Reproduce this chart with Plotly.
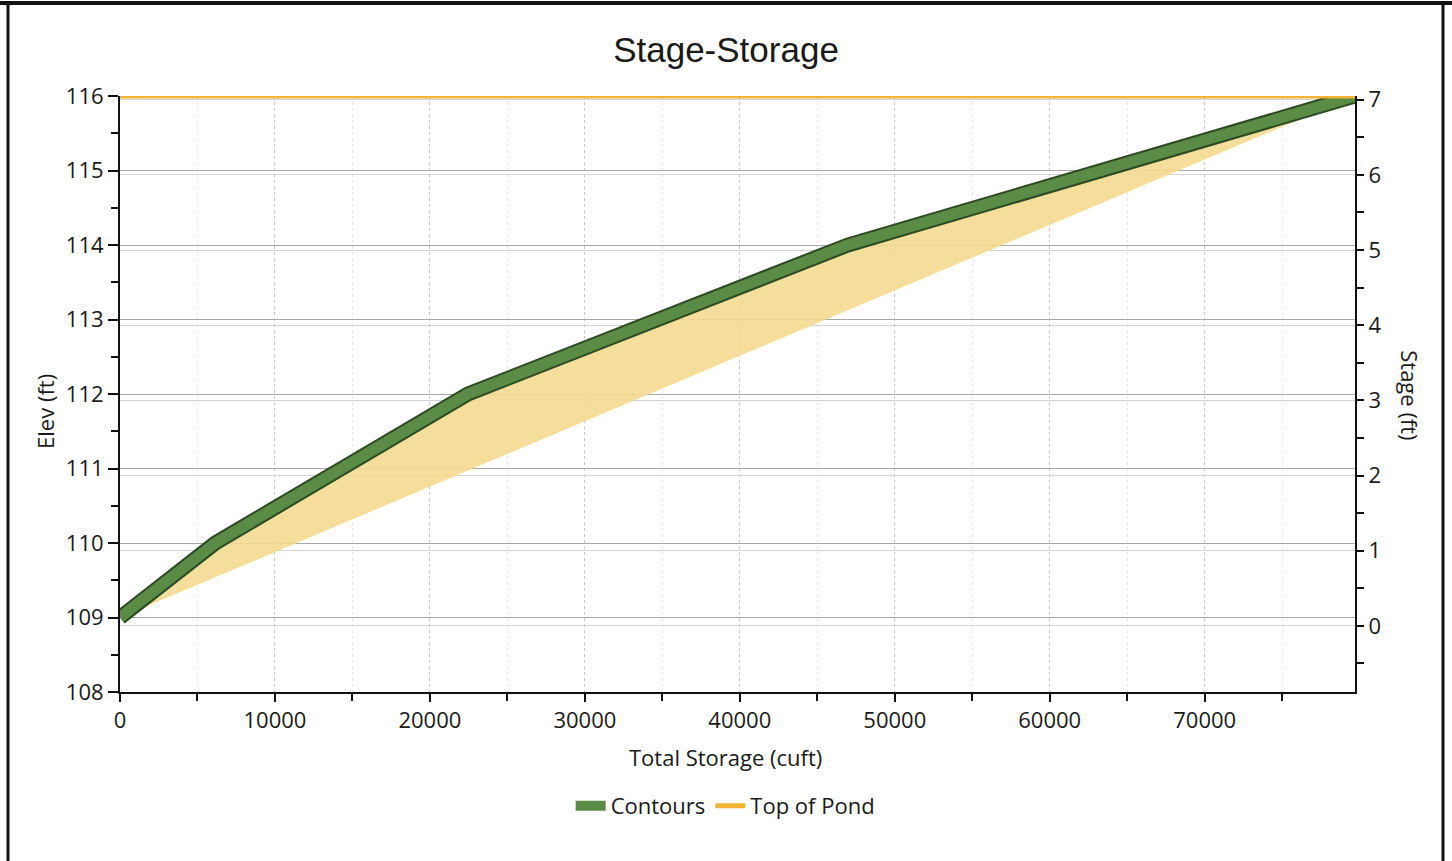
import plotly.graph_objects as go

# values
storage = [0, 6150, 22450, 46970, 79700]          # cuft
elev = [109.0, 110.0, 112.0, 114.0, 116.0]        # ft
stage = [0.0, 1.0, 3.0, 5.0, 7.0]                 # ft
fill_low = [109.0, 109.54, 110.97, 113.12, 116.0] # lower edge of shaded band
pond_x = [0, 79700]
pond_top = [116.0, 116.0]

GREEN = "#5b8c46"
DARK = "#2e4a22"
TAN = "rgba(244,218,145,0.9)"
ORANGE = "#f2b434"
FONT = "Open Sans"

fig = go.Figure()

# shaded band between the contour line and the straight lower edge
fig.add_trace(go.Scatter(x=storage, y=fill_low, mode="lines", line=dict(width=0),
                         showlegend=False, hoverinfo="skip"))
fig.add_trace(go.Scatter(x=storage, y=elev, mode="lines", line=dict(width=0),
                         fill="tonexty", fillcolor=TAN, showlegend=False, hoverinfo="skip"))

# contours: dark outline + green core
fig.add_trace(go.Scatter(x=storage, y=elev, mode="lines", line=dict(color=DARK, width=15),
                         showlegend=False, hoverinfo="skip"))
fig.add_trace(go.Scatter(x=storage, y=elev, mode="lines", name="Contours",
                         line=dict(color=GREEN, width=11)))

# stage axis trace (invisible, just ties y2 to data)
fig.add_trace(go.Scatter(x=storage, y=stage, yaxis="y2", mode="lines",
                         line=dict(width=0), opacity=0, showlegend=False, hoverinfo="skip"))

fig.add_trace(go.Scatter(x=pond_x, y=pond_top, mode="lines", name="Top of Pond",
                         line=dict(color=ORANGE, width=5), cliponaxis=False))

fig.update_layout(
    width=1452, height=861,
    margin=dict(l=120, r=97, t=96, b=169),
    paper_bgcolor="white", plot_bgcolor="white",
    font=dict(family=FONT, size=22, color="#1a1a1a"),
    title=dict(text="Stage-Storage", x=0.5, xref="container", xanchor="center",
               y=1 - 50 / 861, yref="container", yanchor="middle",
               font=dict(family="Liberation Sans", size=35, color="#1a1a1a")),
    xaxis=dict(range=[0, 79700], dtick=10000, tick0=0, showline=True, linecolor="#111",
               linewidth=2, ticks="outside", ticklen=8, tickwidth=2, tickcolor="#111",
               showgrid=True, gridcolor="#c8c8c8", griddash="dot", gridwidth=1,
               zeroline=False, tickformat="d",
               minor=dict(dtick=5000, ticks="outside", ticklen=7, tickwidth=2,
                          tickcolor="#111", showgrid=True, gridcolor="#e6e6e6",
                          griddash="dot")),
    yaxis=dict(range=[108, 116], dtick=1, showline=True, linecolor="#111", linewidth=2,
               ticks="outside", ticklen=10, tickwidth=2, tickcolor="#111",
               showgrid=True, gridcolor="#a8a8a8", gridwidth=1, zeroline=False,
               minor=dict(dtick=0.5, ticks="outside", ticklen=7, tickwidth=2,
                          tickcolor="#111", showgrid=False)),
    yaxis2=dict(range=[-0.88, 7.05], dtick=1, overlaying="y", side="right",
                showline=True, linecolor="#111", linewidth=2, ticks="outside",
                ticklen=7, tickwidth=2, tickcolor="#111", showgrid=True,
                gridcolor="#d4d4d4", gridwidth=1, zeroline=False,
                minor=dict(dtick=0.5, ticks="outside", ticklen=7, tickwidth=2,
                           tickcolor="#111", showgrid=False)),
    legend=dict(orientation="h", x=0.49, xanchor="center", y=-0.191, yanchor="middle",
                font=dict(size=22), bgcolor="rgba(0,0,0,0)", itemwidth=30,
                traceorder="normal", tracegroupgap=0),
    showlegend=True,
)

fig.add_annotation(text="Total Storage (cuft)", xref="paper", yref="paper", x=0.49,
                   y=-0.109, xanchor="center", yanchor="middle", showarrow=False,
                   font=dict(size=22))
fig.add_annotation(text="Elev (ft)", xref="paper", yref="paper", x=-0.0607, y=0.47,
                   textangle=-90, xanchor="center", yanchor="middle", showarrow=False,
                   font=dict(size=22))
fig.add_annotation(text="Stage (ft)", xref="paper", yref="paper", x=1.0445, y=0.498,
                   textangle=90, xanchor="center", yanchor="middle", showarrow=False,
                   font=dict(size=22))

# outer frame of the scanned page
px = lambda p: (p - 120) / 1235
py = lambda p: (692 - p) / 596
fig.add_shape(type="line", xref="paper", yref="paper", x0=px(8), x1=px(8),
              y0=py(3), y1=py(870), line=dict(color="#111", width=3))
fig.add_shape(type="line", xref="paper", yref="paper", x0=px(1443), x1=px(1443),
              y0=py(3), y1=py(870), line=dict(color="#111", width=3))
fig.add_shape(type="line", xref="paper", yref="paper", x0=px(0), x1=px(1452),
              y0=py(3), y1=py(3), line=dict(color="#111", width=4))

fig.write_html("out.html", config={"displayModeBar": False},
               post_script="document.body.style.margin='0';")
